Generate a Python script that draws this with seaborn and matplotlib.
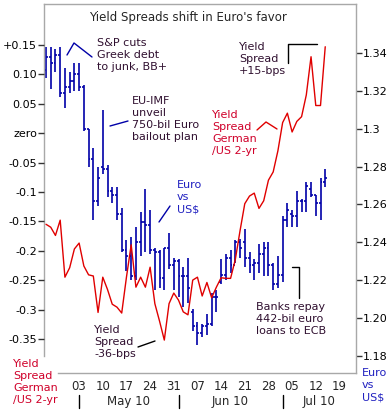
import numpy as np
import pandas as pd
import matplotlib
matplotlib.use('Agg')
import matplotlib.pyplot as plt
import matplotlib.transforms as mtransforms
from matplotlib.lines import Line2D
import seaborn as sns

# data: business days 22 Apr - 14 Jul 2010
dates = pd.bdate_range('2010-04-22', '2010-07-14')

eur_high = [1.343, 1.343, 1.342, 1.343, 1.332, 1.330, 1.335, 1.335, 1.323, 1.300,
            1.290, 1.280, 1.310, 1.281, 1.269, 1.269, 1.258, 1.241, 1.243, 1.248,
            1.256, 1.268, 1.257, 1.237, 1.236, 1.237, 1.245, 1.232, 1.231, 1.227,
            1.232, 1.205, 1.198, 1.197, 1.202, 1.213, 1.215, 1.231, 1.234, 1.236,
            1.241, 1.242, 1.247, 1.235, 1.231, 1.239, 1.240, 1.240, 1.229, 1.233,
            1.254, 1.261, 1.257, 1.267, 1.263, 1.272, 1.272, 1.265, 1.274, 1.279]
eur_low = [1.327, 1.321, 1.330, 1.317, 1.311, 1.319, 1.320, 1.320, 1.299, 1.280,
           1.252, 1.259, 1.276, 1.264, 1.261, 1.252, 1.235, 1.225, 1.220, 1.220,
           1.233, 1.235, 1.234, 1.215, 1.216, 1.215, 1.226, 1.215, 1.211, 1.206,
           1.208, 1.193, 1.186, 1.190, 1.191, 1.196, 1.203, 1.218, 1.220, 1.224,
           1.229, 1.232, 1.227, 1.224, 1.220, 1.224, 1.222, 1.222, 1.215, 1.216,
           1.219, 1.248, 1.248, 1.248, 1.256, 1.256, 1.264, 1.254, 1.252, 1.269]
eur_open = [1.331, 1.338, 1.335, 1.339, 1.319, 1.322, 1.325, 1.329, 1.322, 1.300,
            1.284, 1.262, 1.280, 1.279, 1.267, 1.265, 1.255, 1.236, 1.233, 1.222,
            1.240, 1.251, 1.249, 1.236, 1.235, 1.221, 1.237, 1.228, 1.230, 1.222,
            1.222, 1.203, 1.196, 1.192, 1.196, 1.197, 1.211, 1.219, 1.223, 1.232,
            1.228, 1.240, 1.240, 1.232, 1.228, 1.229, 1.234, 1.237, 1.228, 1.218,
            1.223, 1.252, 1.255, 1.254, 1.262, 1.262, 1.268, 1.265, 1.261, 1.272]
eur_close = [1.338, 1.335, 1.339, 1.319, 1.322, 1.325, 1.329, 1.322, 1.300, 1.284,
             1.262, 1.274, 1.279, 1.267, 1.265, 1.255, 1.236, 1.233, 1.222, 1.240,
             1.251, 1.249, 1.236, 1.235, 1.221, 1.237, 1.228, 1.230, 1.222, 1.222,
             1.216, 1.196, 1.192, 1.196, 1.197, 1.211, 1.211, 1.223, 1.232, 1.228,
             1.240, 1.237, 1.232, 1.228, 1.229, 1.234, 1.237, 1.228, 1.218, 1.223,
             1.252, 1.257, 1.254, 1.262, 1.262, 1.270, 1.265, 1.261, 1.272, 1.274]

# German / US 2-yr yield spread (percentage points)
spread = [-0.155, -0.160, -0.174, -0.148, -0.245, -0.229, -0.197, -0.187, -0.226, -0.241,
          -0.243, -0.305, -0.245, -0.266, -0.291, -0.296, -0.306, -0.245, -0.190, -0.262,
          -0.245, -0.262, -0.228, -0.290, -0.320, -0.352, -0.290, -0.272, -0.284, -0.304,
          -0.309, -0.250, -0.245, -0.277, -0.254, -0.280, -0.262, -0.246, -0.247, -0.247,
          -0.215, -0.166, -0.120, -0.107, -0.102, -0.128, -0.115, -0.080, -0.066, -0.030,
          0.018, 0.034, 0.002, 0.020, 0.028, 0.065, 0.130, 0.047, 0.047, 0.147]

week_labels = ['03', '10', '17', '24', '31', '07', '14', '21', '28', '05', '12', '19']
month_labels = ['May 10', 'Jun 10', 'Jul 10']
left_ticks = [0.15, 0.10, 0.05, 0.0, -0.05, -0.1, -0.15, -0.2, -0.25, -0.3, -0.35]
left_labels = ['+0.15', '0.10', '0.05', 'zero', '-0.05', '-0.1', '-0.15', '-0.2', '-0.25', '-0.3', '-0.35']
right_ticks = [1.34, 1.32, 1.30, 1.28, 1.26, 1.24, 1.22, 1.20, 1.18]
right_labels = ['1.34', '1.32', '1.3', '1.28', '1.26', '1.24', '1.22', '1.20', '1.18']

df = pd.DataFrame({'date': dates, 'high': eur_high, 'low': eur_low,
                   'open': eur_open, 'close': eur_close, 'spread': spread})
df['day'] = np.arange(len(df))

BLUE = '#0000a8'
RED = '#e00000'
TXT = '#301030'
GRAY = '#a8a8a8'

sns.set_style('white')
plt.rcParams['font.family'] = ['DejaVu Sans']

W, H = 392, 413
fig = plt.figure(figsize=(W / 100, H / 100), dpi=100)
fig.patch.set_facecolor('white')
ax = fig.add_axes([44 / W, 1 - 373 / H, 312 / W, 369 / H])
ax2 = ax.twinx()

# euro bars (right axis)
ax.vlines(df['day'], df['low'], df['high'], color=BLUE, lw=1.2)
ax.hlines(df['open'], df['day'] - 0.4, df['day'], color=BLUE, lw=1.2)
ax.hlines(df['close'], df['day'], df['day'] + 0.4, color=BLUE, lw=1.2)
ax.set_ylim(1.171, 1.3659)
ax.set_xlim(-0.42, 65.5)
ax.yaxis.tick_right()
ax.set_yticks(right_ticks, right_labels)

# yield spread (left axis)
sns.lineplot(data=df, x='day', y='spread', ax=ax2, color=RED, lw=1.0)
ax2.set_ylim(-0.408, 0.2197)
ax2.yaxis.tick_left()
ax2.set_yticks(left_ticks, left_labels)
ax2.set_xlabel('')
ax2.set_ylabel('')
ax.set_xlabel('')
ax.set_ylabel('')

for a in (ax, ax2):
    a.tick_params(axis='y', length=4, width=1, color='#333333', pad=1, labelsize=8, labelcolor='black')
for s in ax2.spines.values():
    s.set_visible(False)
for s in ax.spines.values():
    s.set_color(GRAY)
    s.set_linewidth(1)
ax.spines['left'].set_bounds(1.18, 1.3659)
ax.spines['bottom'].set_bounds(2.54, 65.5)

# weekly labels on Mondays
mondays = pd.date_range('2010-05-03', '2010-07-19', freq='W-MON')
week_pos = [7 + 5 * k for k in range(len(mondays))]
ax.set_xticks(week_pos, week_labels)
ax.tick_params(axis='x', length=0, pad=5, labelsize=8.5)
ax2.tick_params(axis='x', length=0, labelbottom=False)

# month labels and separators
trans = mtransforms.blended_transform_factory(ax.transData, fig.transFigure)
month_starts = [7, 28, 50]
month_mid = [17.5, 39, 57.75]
for xm, lab in zip(month_mid, month_labels):
    fig.text(xm, 1 - 402 / H, lab, transform=trans, ha='center', va='center', fontsize=8.5)
for xs in month_starts:
    fig.add_artist(Line2D([xs, xs], [1 - 395 / H, 1 - 408 / H], transform=trans, color='black', lw=1))


def px(x, y):
    return x / W, 1 - y / H


def note(x, y, s, color=TXT, **kw):
    fig.text(*px(x, y), s, color=color, fontsize=8, va='top', ha='left', linespacing=1.25, **kw)


def pline(pts, color):
    xs = [p[0] / W for p in pts]
    ys = [1 - p[1] / H for p in pts]
    fig.add_artist(Line2D(xs, ys, color=color, lw=1))


fig.text(*px(188, 18), "Yield Spreads shift in Euro's favor", ha='center', va='center', fontsize=8.5)

note(97, 38, 'S&P cuts\nGreek debt\nto junk, BB+')
pline([(67, 55), (74, 43), (92, 57)], BLUE)
note(132, 96, 'EU-IMF\nunveil\n750-bil Euro\nbailout plan')
pline([(110, 126), (128, 121)], BLUE)
note(177, 180, 'Euro\nvs\nUS$', color='#2020c0')
pline([(159, 222), (170, 206)], BLUE)
note(212, 110, 'Yield\nSpread\nGerman\n/US 2-yr', color='#d0002a')
pline([(257, 130), (266, 122), (277, 129)], RED)
note(239, 42, 'Yield\nSpread\n+15-bps')
pline([(288, 63), (288, 44), (317, 44)], 'black')
note(94, 325, 'Yield\nSpread\n-36-bps')
pline([(138, 347), (155, 341)], 'black')
note(256, 302, 'Banks repay\n442-bil euro\nloans to ECB')
pline([(292, 267), (299, 267), (299, 298)], 'black')

note(13, 359, 'Yield\nSpread\nGerman\n/US 2-yr', color='#d0002a')
note(362, 368, 'Euro\nvs\nUS$', color='#2020c0')

fig.savefig('out.png', dpi=100)
